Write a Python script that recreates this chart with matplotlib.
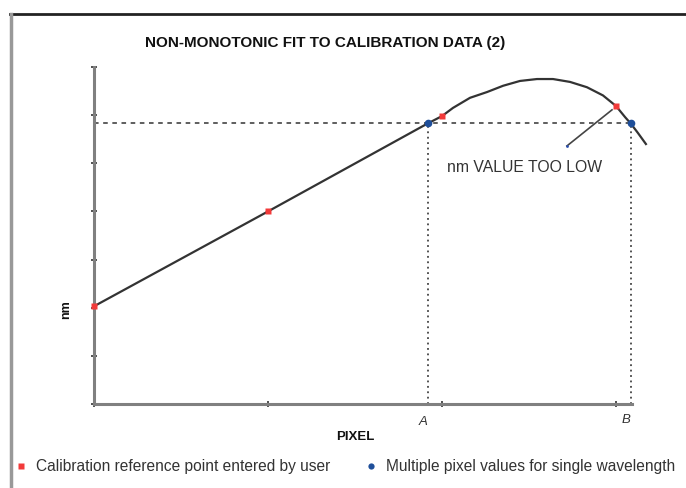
import matplotlib
matplotlib.use("Agg")
import matplotlib.pyplot as plt
from matplotlib.lines import Line2D

plt.rcParams['font.family'] = ['Liberation Sans', 'DejaVu Sans']

# calibration points entered by the user (pixel, nm)
cal_x = [0.0, 1.0, 2.0, 3.0]
cal_y = [2.03, 4.0, 5.98, 6.19]

# pixels that give the same wavelength
multi_x = [1.92, 3.086]
multi_y = [5.83, 5.83]

# fitted curve
fit_x = [0.0, 1.0, 1.914, 2.0, 2.063, 2.161, 2.259, 2.351, 2.448, 2.546, 2.638,
         2.736, 2.833, 2.925, 3.0, 3.052, 3.086, 3.126, 3.172]
fit_y = [2.03, 4.0, 5.82, 5.98, 6.15, 6.36, 6.48, 6.61, 6.71, 6.75, 6.75,
         6.69, 6.58, 6.41, 6.19, 5.96, 5.82, 5.63, 5.40]

W, H = 686, 489
fig = plt.figure(figsize=(W / 100, H / 100), dpi=100)

# outer frame
fig.add_artist(Line2D([10 / W, 1], [1 - 15 / H, 1 - 15 / H], color='#222222', lw=2))
fig.add_artist(Line2D([11 / W, 11 / W], [0, 1 - 15 / H], color='#999999', lw=2.5))

ax = fig.add_axes([94 / W, (H - 405) / H, (632 - 94) / W, (405 - 68) / H])
ax.set_xlim(0, 3.092)
ax.set_ylim(0, 7)
for s in ['top', 'right']:
    ax.spines[s].set_visible(False)
for s in ['left', 'bottom']:
    ax.spines[s].set_color('#808080')
    ax.spines[s].set_linewidth(2.2)
ax.set_xticks([0, 1, 2, 3])
ax.set_yticks(range(8))
ax.set_xticklabels([])
ax.set_yticklabels([])
ax.tick_params(direction='inout', length=4, width=1.2, color='#333333')

# guide lines for the repeated wavelength
ax.plot([0, multi_x[1]], [multi_y[0], multi_y[0]], color='#333333', lw=1.1, ls=(0, (3, 3)))
for mx, my in zip(multi_x, multi_y):
    ax.plot([mx, mx], [0, my], color='#444444', lw=1.3, ls=(0, (1, 2)))

ax.plot(fit_x, fit_y, color='#333333', lw=1.6, clip_on=False, zorder=3,
        solid_joinstyle='round')
ax.plot(cal_x, cal_y, 's', color='#f23a3a', ms=5, mec='none', clip_on=False, zorder=4)
ax.plot(multi_x, multi_y, 'o', color='#1f4f9a', ms=5.5, mec='none', clip_on=False, zorder=4)

# pointer to the low value
ax.plot([2.977, 2.718], [6.11, 5.36], color='#444444', lw=1.2)
ax.plot([2.718], [5.36], marker='o', color='#2a4fb0', ms=2, mec='none')
ax.text(2.03, 4.94, 'nm VALUE TOO LOW', fontsize=11.3, color='#333333', va='center', ha='left')

fig.text(325 / W, 1 - 43 / H, 'NON-MONOTONIC FIT TO CALIBRATION DATA (2)',
         fontsize=11, fontweight='bold', ha='center', va='center', color='#111111')
fig.text(66 / W, 1 - 310 / H, 'nm', fontsize=9, fontweight='bold', rotation=90,
         ha='center', va='center', color='#111111')
fig.text(355 / W, 1 - 437 / H, 'PIXEL', fontsize=9.5, fontweight='bold',
         ha='center', va='center', color='#111111')
fig.text(423 / W, 1 - 422 / H, 'A', fontsize=9.5, style='italic', ha='center', va='center', color='#333333')
fig.text(626 / W, 1 - 420 / H, 'B', fontsize=9.5, style='italic', ha='center', va='center', color='#333333')

# legend row
fig.add_artist(Line2D([21 / W], [1 - 467 / H], marker='s', color='#f23a3a', ms=4, mec='none'))
fig.text(36 / W, 1 - 467 / H, 'Calibration reference point entered by user', fontsize=11.2,
         ha='left', va='center', color='#333333')
fig.add_artist(Line2D([371 / W], [1 - 467 / H], marker='o', color='#1f4f9a', ms=4.5, mec='none'))
fig.text(386 / W, 1 - 467 / H, 'Multiple pixel values for single wavelength', fontsize=11.2,
         ha='left', va='center', color='#333333')

fig.savefig('out.png', dpi=100)
